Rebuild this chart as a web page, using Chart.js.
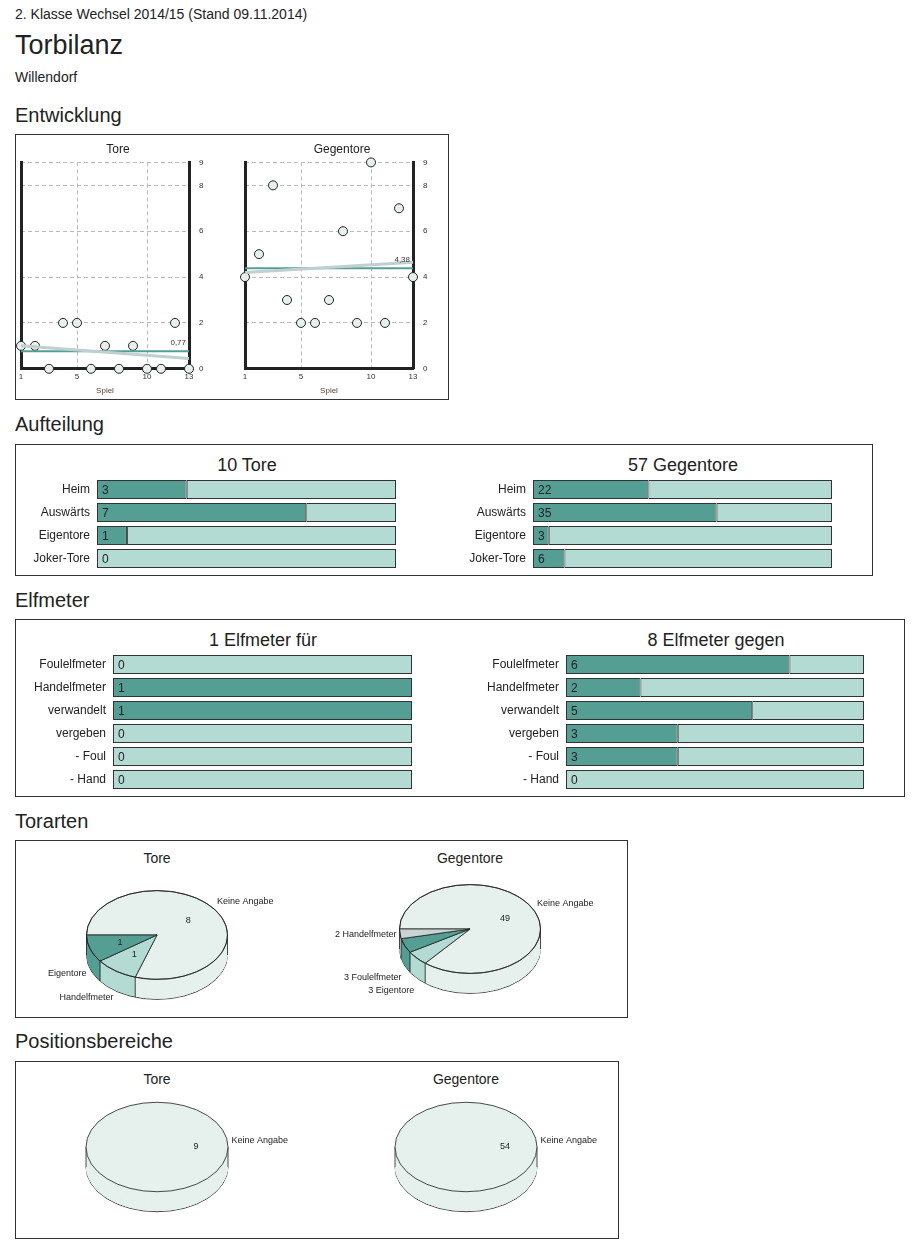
<!DOCTYPE html>
<html><head><meta charset="utf-8">
<script src="https://cdn.jsdelivr.net/npm/chart.js@4"></script>
<style>
body{margin:0;font-family:"Liberation Sans",Arial,sans-serif;color:#222;background:#fff;}
.t{position:absolute;white-space:nowrap;}
.box{position:absolute;border:1px solid #333;}
canvas{position:absolute;}
h2{position:absolute;margin:0;font-weight:normal;font-size:20px;}
.ct{position:absolute;font-size:18px;text-align:center;}
.pt{position:absolute;font-size:14px;text-align:center;}
</style></head><body>
<div class="t" style="left:15px;top:6px;font-size:14px">2. Klasse Wechsel 2014/15 (Stand 09.11.2014)</div>
<div class="t" style="left:15px;top:30px;font-size:27px">Torbilanz</div>
<div class="t" style="left:15px;top:69px;font-size:14px">Willendorf</div>

<h2 style="left:15px;top:104px">Entwicklung</h2>
<div class="box" style="left:15px;top:134px;width:432px;height:264px"></div>
<canvas id="scTore" width="200" height="258" style="left:15px;top:140px;width:200px;height:258px"></canvas>
<canvas id="scGegen" width="200" height="258" style="left:239px;top:140px;width:200px;height:258px"></canvas>

<h2 style="left:15px;top:413px">Aufteilung</h2>
<div class="box" style="left:15px;top:444px;width:856px;height:130px"></div>
<div class="ct" style="left:97px;top:455px;width:300px">10 Tore</div>
<div class="ct" style="left:533px;top:455px;width:300px">57 Gegentore</div>
<canvas id="barTore" width="380" height="92" style="left:20px;top:478px;width:380px;height:92px"></canvas>
<canvas id="barGegen" width="386" height="92" style="left:450px;top:478px;width:386px;height:92px"></canvas>

<h2 style="left:15px;top:589px">Elfmeter</h2>
<div class="box" style="left:15px;top:619px;width:888px;height:176px"></div>
<div class="ct" style="left:113px;top:630px;width:300px">1 Elfmeter für</div>
<div class="ct" style="left:566px;top:630px;width:300px">8 Elfmeter gegen</div>
<canvas id="elfFuer" width="396" height="138" style="left:20px;top:653px;width:396px;height:138px"></canvas>
<canvas id="elfGegen" width="398" height="138" style="left:470px;top:653px;width:398px;height:138px"></canvas>

<h2 style="left:15px;top:810px">Torarten</h2>
<div class="box" style="left:15px;top:840px;width:611px;height:176px"></div>
<div class="pt" style="left:107px;top:850px;width:100px">Tore</div>
<div class="pt" style="left:420px;top:850px;width:100px">Gegentore</div>
<canvas id="pieArtTore" width="300" height="160" style="left:7px;top:855px;width:300px;height:160px"></canvas>
<canvas id="pieArtGegen" width="300" height="160" style="left:320px;top:849px;width:300px;height:160px"></canvas>

<h2 style="left:15px;top:1030px">Positionsbereiche</h2>
<div class="box" style="left:15px;top:1061px;width:602px;height:176px"></div>
<div class="pt" style="left:107px;top:1071px;width:100px">Tore</div>
<div class="pt" style="left:416px;top:1071px;width:100px">Gegentore</div>
<canvas id="piePosTore" width="300" height="160" style="left:7px;top:1067px;width:300px;height:160px"></canvas>
<canvas id="piePosGegen" width="300" height="160" style="left:316px;top:1067px;width:300px;height:160px"></canvas>

<script>
const DARK = '#549e93', LIGHT = '#b3dbd3', PALE = '#e6f0ed', GREY = '#c8d4d4';
Chart.defaults.font.family = '"Liberation Sans", Arial, sans-serif';
Chart.defaults.color = '#222';
Chart.defaults.animation = false;

// Entwicklung
const spiele = [1,2,3,4,5,6,7,8,9,10,11,12,13];
const toreProSpiel = [1,1,0,2,2,0,1,0,1,0,0,2,0];
const gegenProSpiel = [4,5,8,3,2,2,3,6,2,9,2,7,4];
const toreSchnitt = 0.77, gegenSchnitt = 4.38;
const toreTrend = [1.0, 0.45];
const gegenTrend = [4.2, 4.65];
const xTicks = [1,5,10,13];
const yTicks = [0,2,4,6,8,9];

// Aufteilung
const aufLabels = ['Heim','Auswärts','Eigentore','Joker-Tore'];
const aufTore = [3,7,1,0];
const aufGegen = [22,35,3,6];
const totalTore = 10, totalGegen = 57;

// Elfmeter
const elfLabels = ['Foulelfmeter','Handelfmeter','verwandelt','vergeben','- Foul','- Hand'];
const elfFuer = [0,1,1,0,0,0];
const elfGegen = [6,2,5,3,3,0];
const totalElfFuer = 1, totalElfGegen = 8;

// Torarten
const artToreValues = [8,1,1];
const artToreOuter = ['Keine Angabe','Handelfmeter','Eigentore'];
const artToreInner = ['8','1','1'];
const artToreColors = [PALE, LIGHT, DARK];
const artGegenValues = [49,3,3,2];
const artGegenOuter = ['Keine Angabe','3 Eigentore','3 Foulelfmeter','2 Handelfmeter'];
const artGegenInner = ['49','','',''];
const artGegenColors = [PALE, LIGHT, DARK, GREY];

// Positionsbereiche
const posToreValues = [9], posGegenValues = [54];

function fmt(v){ return v.toFixed(2).replace('.', ','); }

const meanLabel = {
  id: 'meanLabel',
  afterDatasetsDraw(chart, args, opts) {
    const {ctx, scales} = chart;
    ctx.save();
    ctx.font = '8px "Liberation Sans", Arial';
    ctx.fillStyle = '#333';
    ctx.textAlign = 'right';
    ctx.fillText(fmt(opts.value), scales.x.right - 3, scales.y.getPixelForValue(opts.value) - 6);
    ctx.restore();
  }
};

function makeScatter(id, title, values, mean, trend) {
  new Chart(document.getElementById(id), {
    type: 'scatter',
    data: {
      datasets: [
        { type: 'line', data: [{x:1,y:trend[0]},{x:13,y:trend[1]}], borderColor: '#c0cfcf', borderWidth: 3, pointRadius: 0, clip: false },
        { type: 'line', data: [{x:1,y:mean},{x:13,y:mean}], borderColor: DARK, borderWidth: 2, pointRadius: 0, clip: false },
        { data: spiele.map((s,i) => ({x:s, y:values[i]})), pointRadius: 4.5, backgroundColor: PALE, borderColor: '#222', borderWidth: 1, clip: false }
      ]
    },
    options: {
      responsive: false,
      layout: { padding: { left: 6, right: 0, top: 0, bottom: 0 } },
      plugins: {
        legend: { display: false }, tooltip: { enabled: false },
        title: { display: true, text: title, font: { size: 12, weight: 'normal' }, padding: { top: 2, bottom: 6 } },
        meanLabel: { value: mean }
      },
      scales: {
        x: {
          type: 'linear', min: 1, max: 13,
          afterBuildTicks: ax => { ax.ticks = xTicks.map(v => ({value: v})); },
          ticks: { font: { size: 8 }, padding: 3, color: '#333' },
          grid: { color: '#bbb', drawTicks: false },
          border: { color: '#222', width: 3, dash: [4,3] },
          title: { display: true, text: 'Spiel', font: { size: 8 }, color: '#5a3a30', padding: 2 }
        },
        y: {
          position: 'right', min: 0, max: 9,
          afterBuildTicks: ax => { ax.ticks = yTicks.map(v => ({value: v})); },
          afterFit: ax => { ax.width = 26; },
          ticks: { font: { size: 8 }, padding: 10, color: '#333' },
          grid: { color: '#bbb', drawTicks: false },
          border: { color: '#222', width: 3, dash: [4,3] }
        },
        y2: {
          position: 'left', min: 0, max: 9,
          afterFit: ax => { ax.width = 0; },
          ticks: { display: false }, grid: { display: false },
          border: { color: '#222', width: 3 }
        }
      }
    },
    plugins: [meanLabel]
  });
}
makeScatter('scTore', 'Tore', toreProSpiel, toreSchnitt, toreTrend);
makeScatter('scGegen', 'Gegentore', gegenProSpiel, gegenSchnitt, gegenTrend);

const barValueLabel = {
  id: 'barValueLabel',
  afterDatasetsDraw(chart) {
    const {ctx} = chart;
    const meta = chart.getDatasetMeta(0);
    ctx.save();
    ctx.font = '12px "Liberation Sans", Arial';
    ctx.fillStyle = '#222';
    ctx.textBaseline = 'middle';
    meta.data.forEach((bar, i) => {
      ctx.fillText(String(chart.data.datasets[0].data[i]), bar.base + 5, bar.y + 1);
    });
    ctx.restore();
  }
};

function makeBars(id, labels, values, total, axisW) {
  new Chart(document.getElementById(id), {
    type: 'bar',
    data: {
      labels: labels,
      datasets: [
        { data: values, backgroundColor: DARK, borderColor: '#333', borderWidth: 1, borderSkipped: false },
        { data: values.map(v => total - v), backgroundColor: LIGHT, borderColor: '#333', borderWidth: 1, borderSkipped: false }
      ]
    },
    options: {
      responsive: false, indexAxis: 'y',
      layout: { padding: { right: 4, top: 0, bottom: 0 } },
      datasets: { bar: { barPercentage: 0.83, categoryPercentage: 1 } },
      plugins: { legend: { display: false }, tooltip: { enabled: false } },
      scales: {
        x: { stacked: true, min: 0, max: total, display: false },
        y: {
          stacked: true,
          afterFit: ax => { ax.width = axisW; ax.paddingTop = 0; ax.paddingBottom = 0; },
          ticks: { font: { size: 12 }, padding: 7, color: '#222' },
          grid: { display: false, drawTicks: false }, border: { display: false }
        }
      }
    },
    plugins: [barValueLabel]
  });
}
makeBars('barTore', aufLabels, aufTore, totalTore, 77);
makeBars('barGegen', aufLabels, aufGegen, totalGegen, 83);
makeBars('elfFuer', elfLabels, elfFuer, totalElfFuer, 93);
makeBars('elfGegen', elfLabels, elfGegen, totalElfGegen, 96);

// flattened 3D pie
const SQ = 0.63, DEPTH = 20;
const pie3d = {
  id: 'pie3d',
  beforeDatasetsDraw(chart) {
    const {ctx} = chart;
    const arcs = chart.getDatasetMeta(0).data;
    const cx = arcs[0].x, cy = arcs[0].y, r = arcs[0].outerRadius;
    ctx.save();
    ctx.translate(cx, cy); ctx.scale(1, SQ); ctx.translate(-cx, -cy);
    const d = DEPTH / SQ;
    for (let k = d; k >= 0; k -= 1) {
      arcs.forEach(a => {
        ctx.beginPath();
        ctx.moveTo(cx, cy + k);
        ctx.arc(cx, cy + k, r, a.startAngle, a.endAngle);
        ctx.closePath();
        ctx.fillStyle = a.options.backgroundColor;
        ctx.fill();
      });
      if (k === d) {
        ctx.beginPath(); ctx.arc(cx, cy + k, r, 0, Math.PI);
        ctx.strokeStyle = '#222'; ctx.lineWidth = 1; ctx.stroke();
      }
    }
    ctx.beginPath();
    ctx.moveTo(cx - r, cy); ctx.lineTo(cx - r, cy + d);
    ctx.moveTo(cx + r, cy); ctx.lineTo(cx + r, cy + d);
    arcs.forEach(a => {
      const s = a.startAngle;
      if (arcs.length > 1 && Math.sin(s) > 0) {
        const x = cx + r * Math.cos(s), y = cy + r * Math.sin(s);
        ctx.moveTo(x, y); ctx.lineTo(x, y + d);
      }
    });
    ctx.stroke();
  },
  afterDatasetsDraw(chart, args, opts) {
    const {ctx} = chart;
    const arcs = chart.getDatasetMeta(0).data;
    // outline of the top ellipse
    ctx.beginPath(); ctx.arc(arcs[0].x, arcs[0].y, arcs[0].outerRadius, 0, Math.PI * 2);
    ctx.strokeStyle = '#222'; ctx.lineWidth = 1; ctx.stroke();
    ctx.restore();
    ctx.save();
    ctx.font = '9px "Liberation Sans", Arial';
    ctx.fillStyle = '#222';
    ctx.textBaseline = 'middle';
    arcs.forEach((a, i) => {
      const m = (a.startAngle + a.endAngle) / 2;
      const r = a.outerRadius;
      if (opts.inner[i]) {
        ctx.textAlign = 'center';
        ctx.fillText(opts.inner[i], a.x + 0.55 * r * Math.cos(m), a.y + 0.55 * r * Math.sin(m) * SQ);
      }
      const ox = a.x + 1.05 * r * Math.cos(m);
      let oy = a.y + 1.05 * r * Math.sin(m) * SQ;
      if (Math.sin(m) > 0) oy += DEPTH * 0.6;
      else oy -= 6;
      oy += opts.shift ? opts.shift[i] : 0;
      ctx.textAlign = Math.cos(m) >= 0 ? 'left' : 'right';
      ctx.fillText(opts.outer[i], ox, oy);
    });
    ctx.restore();
  }
};

function makePie(id, values, colors, outer, inner, shift) {
  new Chart(document.getElementById(id), {
    type: 'pie',
    data: { datasets: [{ data: values, backgroundColor: colors, borderColor: '#222', borderWidth: values.length > 1 ? 1 : 0 }] },
    options: {
      responsive: false, rotation: -90,
      layout: { padding: 9 },
      plugins: { legend: { display: false }, tooltip: { enabled: false }, pie3d: { outer, inner, shift } }
    },
    plugins: [pie3d]
  });
}
makePie('pieArtTore', artToreValues, artToreColors, artToreOuter, artToreInner, [0,13,12]);
makePie('pieArtGegen', artGegenValues, artGegenColors, artGegenOuter, artGegenInner, [0,19,19,-12]);
makePie('piePosTore', posToreValues, [PALE], ['Keine Angabe'], ['9']);
makePie('piePosGegen', posGegenValues, [PALE], ['Keine Angabe'], ['54']);
</script>
</body></html>
